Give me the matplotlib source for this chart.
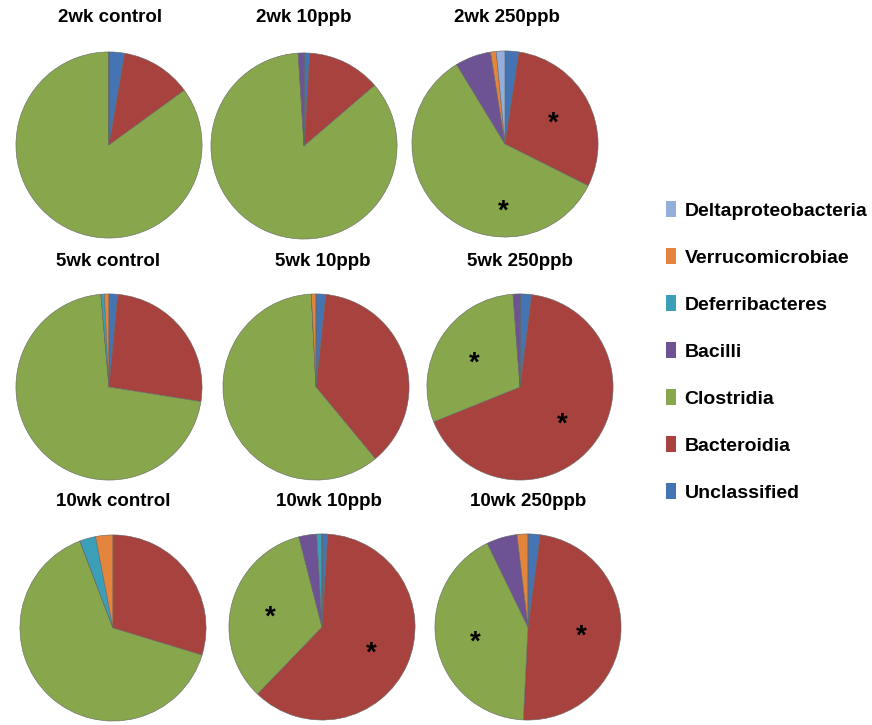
import matplotlib
matplotlib.use("Agg")
import numpy as np
import matplotlib.pyplot as plt
from matplotlib.patches import Patch

# class order = wedge order, clockwise from 12 o'clock
classes = ["Unclassified", "Bacteroidia", "Clostridia", "Bacilli",
           "Deferribacteres", "Verrucomicrobiae", "Deltaproteobacteria"]
colors = ["#4474B4", "#A8423F", "#88A74D", "#6D5393",
          "#3C9FB8", "#E4853D", "#93AEDA"]

titles = ["2wk control", "2wk 10ppb", "2wk 250ppb",
          "5wk control", "5wk 10ppb", "5wk 250ppb",
          "10wk control", "10wk 10ppb", "10wk 250ppb"]

# relative abundance (%) per sample, same order as classes
unclassified = [2.7, 1.0, 2.4, 1.5, 1.7, 2.0, 0.0, 1.0, 2.1]
bacteroidia = [12.3, 12.7, 30.0, 26.0, 37.3, 66.9, 29.7, 61.2, 48.7]
clostridia = [85.0, 85.3, 58.9, 71.1, 60.2, 29.9, 64.5, 33.8, 42.0]
bacilli = [0.0, 1.0, 6.2, 0.0, 0.0, 1.2, 0.0, 3.1, 5.3]
deferribacteres = [0.0, 0.0, 0.0, 0.6, 0.0, 0.0, 2.8, 0.9, 0.0]
verrucomicrobiae = [0.0, 0.0, 1.0, 0.8, 0.8, 0.0, 3.0, 0.0, 1.9]
deltaproteobacteria = [0.0, 0.0, 1.5, 0.0, 0.0, 0.0, 0.0, 0.0, 0.0]

# significant wedges (index into classes) for each sample
starred = [[], [], [1, 2], [], [], [1, 2], [], [1, 2], [1, 2]]
# asterisk angle (deg, clockwise from top) where not at the wedge middle
star_angle = {(2, 2): 182}

# pie centres in pixels
centres = [(109, 145), (304, 146), (505, 144),
           (109, 387), (316, 387), (520, 387),
           (113, 628), (322, 627), (528, 627)]
title_x = [110, 304, 507, 108, 323, 520, 113, 329, 528]
title_y = [18, 18, 18, 262, 262, 262, 502, 502, 502]
radius = 94

W, H = 872, 725
fig = plt.figure(figsize=(W / 100, H / 100), dpi=100)
fig.patch.set_facecolor("white")

data = np.array([unclassified, bacteroidia, clostridia, bacilli,
                 deferribacteres, verrucomicrobiae, deltaproteobacteria]).T

for i, (cx, cy) in enumerate(centres):
    ax = fig.add_axes([(cx - radius) / W, 1 - (cy + radius) / H,
                       2 * radius / W, 2 * radius / H])
    vals = data[i]
    ax.pie(vals, colors=colors, startangle=90, counterclock=False,
           radius=1.0, wedgeprops=dict(linewidth=0.4, edgecolor="#666666"))
    ax.set_xlim(-1.01, 1.01)
    ax.set_ylim(-1.01, 1.01)
    ax.set_aspect("equal")
    ax.axis("off")

    cum = np.concatenate([[0], np.cumsum(vals)]) / vals.sum()
    for k in starred[i]:
        if (i, k) in star_angle:
            mid = np.deg2rad(star_angle[(i, k)])
            r = 0.68
        else:
            mid = (cum[k] + cum[k + 1]) / 2 * 2 * np.pi
            r = 0.58
        ax.text(r * np.sin(mid), r * np.cos(mid) - 0.05, "*",
                ha="center", va="center", fontsize=20, fontweight="bold",
                family="Liberation Sans")

    fig.text(title_x[i] / W, 1 - title_y[i] / H, titles[i],
             ha="center", va="center", fontsize=13.5, fontweight="bold",
             family="Liberation Sans")

handles = [Patch(facecolor=c, edgecolor="none") for c in colors]
leg = fig.legend(handles[::-1], classes[::-1], loc="upper left",
                 bbox_to_anchor=(666 / W, 1 - 201 / H), frameon=False,
                 borderpad=0, borderaxespad=0,
                 handlelength=0.5, handleheight=0.9, handletextpad=0.45,
                 labelspacing=1.45,
                 prop=dict(family="Liberation Sans", weight="bold", size=14))

fig.savefig("out.png", dpi=100, facecolor="white")
